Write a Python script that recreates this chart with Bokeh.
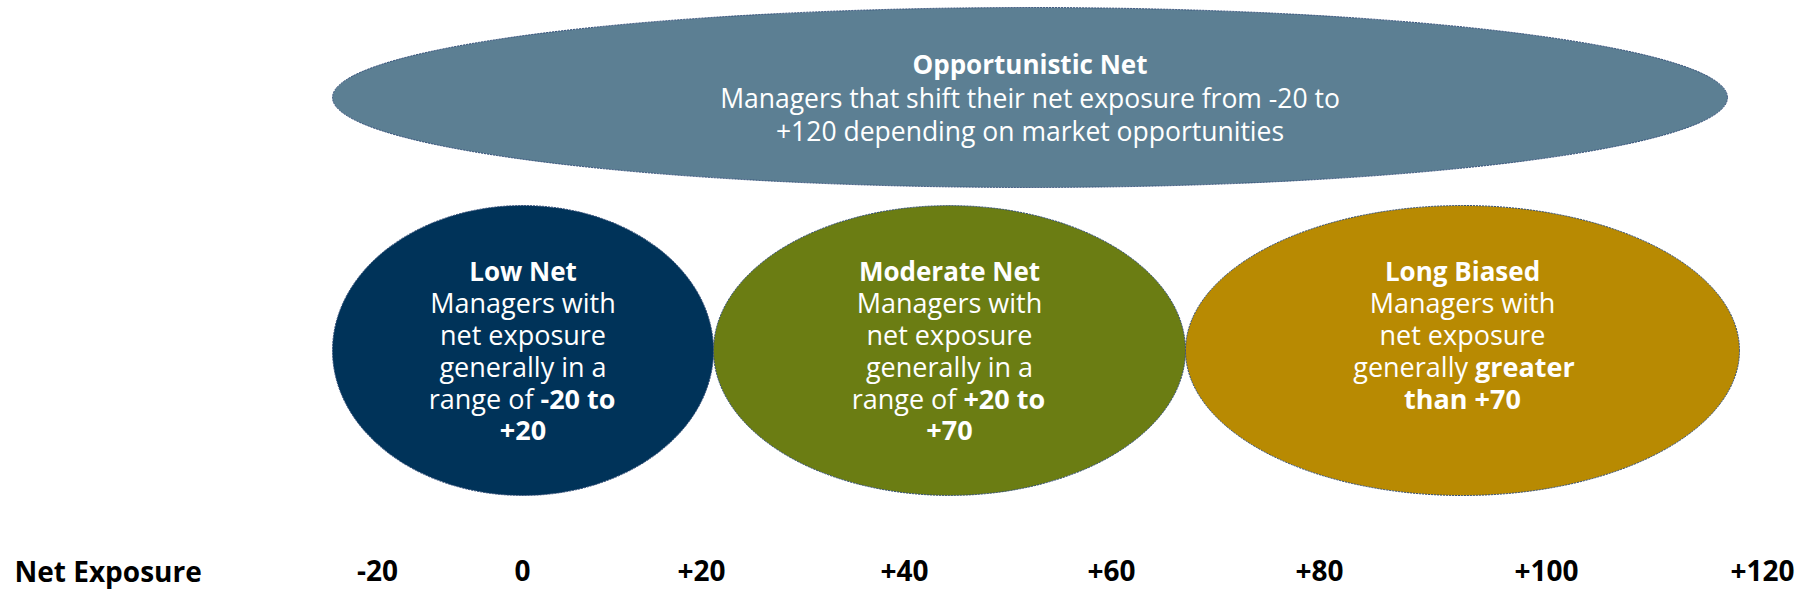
from bokeh.plotting import figure
from bokeh.models import Range1d, ColumnDataSource
from bokeh.core.properties import value
from bokeh.embed import file_html
from bokeh.resources import INLINE

# ---------------- data ----------------
categories = ["Opportunistic Net", "Low Net", "Moderate Net", "Long Biased"]
colors = ["#5C7F93", "#003359", "#6B7D13", "#B88A02"]
# exposure ranges each style covers
range_low = [-20, -20, 20, 70]
range_high = [120, 20, 70, 120]
tick_labels = ["-20", "0", "+20", "+40", "+60", "+80", "+100", "+120"]
axis_title = "Net Exposure"

opp_lines = ["Managers that shift their net exposure from -20 to",
             "+120 depending on market opportunities"]
low_lines = ["Managers with", "net exposure", "generally in a"]
mod_lines = ["Managers with", "net exposure", "generally in a"]
long_lines = ["Managers with", "net exposure"]
low_last = ("range of ", "-20 to", "+20")
mod_last = ("range of ", "+20 to", "+70")
long_last = ("generally ", "greater", "than +70")

# ---------------- layout (canvas units) ----------------
W, H = 1802, 592
FONT = value("Open Sans")
ell_cx = [1029.5, 522.5, 949, 1462]
ell_cy = [97, 350, 350, 350]
ell_w = [1395, 381, 472, 554]
ell_h = [180, 290, 290, 290]
tick_x = [377, 522, 701, 904, 1111, 1319, 1546, 1762]
axis_y = 570
line_gap = 32
BIG = 26.5
SMALL = 27
TITLE = 26

p = figure(width=W, height=H, output_backend="svg", toolbar_location=None,
           x_range=Range1d(0, W), y_range=Range1d(H, 0),
           x_axis_type=None, y_axis_type=None, min_border=0)
p.outline_line_color = None
p.grid.visible = False
p.background_fill_color = "white"
p.border_fill_color = "white"

src = ColumnDataSource(dict(x=ell_cx, y=ell_cy, w=ell_w, h=ell_h, c=colors,
                            name=categories, lo=range_low, hi=range_high))
p.ellipse(x="x", y="y", width="w", height="h", fill_color="c", source=src,
          line_color="#2E4A75", line_width=1, line_dash="2 1")


def txt(x, y, s, bold=False, align="center", size=SMALL):
    p.text(x=[x], y=[y], text=[s], text_font=FONT, text_font_size=f"{size}px",
           text_font_style="bold" if bold else "normal", text_color="white",
           text_align=align, text_baseline="middle")


# Opportunistic
txt(ell_cx[0], 63, categories[0], bold=True, size=TITLE)
for i, s in enumerate(opp_lines):
    txt(ell_cx[0], 97 + i * 33, s, size=BIG)


# approximate em widths for centring mixed-weight lines
def em_width(s, bold=False, size=SMALL):
    wd = {'a': .556, 'b': .613, 'c': .48, 'd': .613, 'e': .561, 'f': .336, 'g': .54,
          'h': .615, 'i': .258, 'l': .258, 'n': .615, 'o': .602, 'p': .613, 'r': .408,
          's': .477, 't': .353, 'u': .615, 'w': .816, 'y': .498, ' ': .26, '-': .322,
          '+': .572, '0': .572, '2': .572, '7': .572}
    k = 1.06 if bold else 1.0
    return sum(wd.get(ch, .56) for ch in s) * size * k


def small(ci, lines, last):
    cx = ell_cx[ci]
    y0 = 270
    txt(cx, y0, categories[ci], bold=True, size=TITLE)
    for i, s in enumerate(lines):
        txt(cx, y0 + (i + 1) * line_gap, s)
    n = len(lines) + 1
    a, b, c = last
    wa, wb = em_width(a), em_width(b, True)
    start = cx - (wa + wb) / 2
    txt(start + wa, y0 + n * line_gap, a, align="right")
    txt(start + wa, y0 + n * line_gap, b, bold=True, align="left")
    txt(cx, y0 + (n + 1) * line_gap, c, bold=True)


small(1, low_lines, low_last)
small(2, mod_lines, mod_last)
small(3, long_lines, long_last)

# axis row
p.text(x=[14], y=[axis_y], text=[axis_title], text_font=FONT, text_font_size="28px",
       text_font_style="bold", text_color="black", text_align="left",
       text_baseline="middle")
p.text(x=tick_x, y=[axis_y] * len(tick_x), text=tick_labels, text_font=FONT,
       text_font_size="28px", text_font_style="bold", text_color="black",
       text_align="center", text_baseline="middle")

open("out.html", "w").write(file_html(p, INLINE))
